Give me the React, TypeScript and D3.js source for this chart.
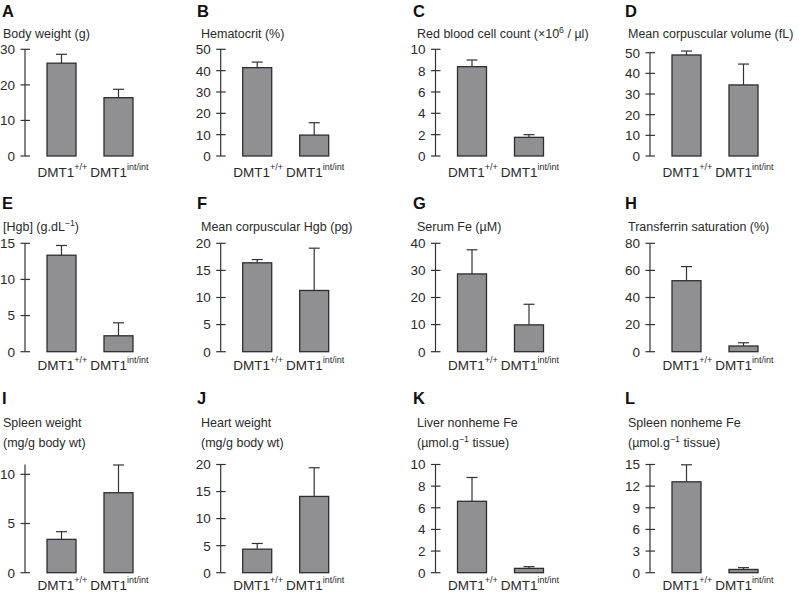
import React from 'react';
import * as d3 from 'd3';

// ---- data ----
const panelLetters = ['A', 'B', 'C', 'D', 'E', 'F', 'G', 'H', 'I', 'J', 'K', 'L'];
const panelTitles: string[][] = [
  ['Body weight (g)'],
  ['Hematocrit (%)'],
  ['Red blood cell count (×10^{6} / µl)'],
  ['Mean corpuscular volume (fL)'],
  ['[Hgb] (g.dL^{−1})'],
  ['Mean corpuscular Hgb (pg)'],
  ['Serum Fe (µM)'],
  ['Transferrin saturation (%)'],
  ['Spleen weight', '(mg/g body wt)'],
  ['Heart weight', '(mg/g body wt)'],
  ['Liver nonheme Fe', '(µmol.g^{−1} tissue)'],
  ['Spleen nonheme Fe', '(µmol.g^{−1} tissue)'],
];
const genotypeBase = 'DMT1';
const genotypes = ['+/+', 'int/int'];
const means: number[][] = [
  [26.1, 16.4],
  [41.4, 9.8],
  [8.37, 1.75],
  [48.9, 34.4],
  [13.35, 2.2],
  [16.4, 11.3],
  [28.7, 9.9],
  [52.4, 4.2],
  [3.39, 8.13],
  [4.35, 14.1],
  [6.6, 0.4],
  [12.6, 0.45],
];
const errors: number[][] = [
  [2.5, 2.35],
  [2.6, 5.8],
  [0.63, 0.25],
  [1.9, 10.1],
  [1.35, 1.8],
  [0.6, 7.8],
  [8.9, 7.6],
  [10.4, 2.4],
  [0.78, 2.82],
  [1.05, 5.3],
  [2.2, 0.16],
  [2.36, 0.25],
];
const yMax = [30, 50, 10, 50, 15, 20, 40, 80, 11, 20, 10, 15];
const tickStep = [10, 10, 2, 10, 5, 5, 10, 20, 5, 5, 2, 3];

// ---- layout ----
const W = 799;
const H = 595;
const colAxisX = [25, 220.7, 435.5, 650];
const colTitleX = [3, 201, 417, 628];
const colLetterX = [2, 197, 413, 625];
const rowBottom = [156, 351.7, 572.7];
const rowTop = [49.3, 243.3, 464.5];
const panelTopAdjust = [0, 0, 0, 3.4, 0, 0, 0, 0, 0, 0, 0, 0];
const rowLetterY = [17, 208.5, 404];
const rowTitleY = [37.5, 230.8, 427];
const rowLabelY = [176.5, 369.5, 589.5];
const titleLineGap = 20;

const FONT = "'Liberation Sans', Arial, Helvetica, sans-serif";
const TEXT = '#2a2a2a';
const AXIS = '#333';
const BAR_FILL = '#909092';
const BAR_STROKE = '#2e2e2e';

function RichText({ text, x, y, size }: { text: string; x: number; y: number; size: number }) {
  const parts: { t: string; sup: boolean }[] = [];
  const re = /\^\{([^}]*)\}/g;
  let last = 0;
  let m: RegExpExecArray | null;
  while ((m = re.exec(text)) !== null) {
    if (m.index > last) parts.push({ t: text.slice(last, m.index), sup: false });
    parts.push({ t: m[1], sup: true });
    last = m.index + m[0].length;
  }
  if (last < text.length) parts.push({ t: text.slice(last), sup: false });
  let shift = 0;
  return (
    <text x={x} y={y} fontSize={size} fill={TEXT} fontFamily={FONT}>
      {parts.map((p, k) => {
        let dy = 0;
        if (p.sup && shift === 0) {
          dy = -5;
          shift = -5;
        } else if (!p.sup && shift !== 0) {
          dy = 5;
          shift = 0;
        }
        return (
          <tspan key={k} dy={dy} fontSize={p.sup ? size * 0.7 : size}>
            {p.t}
          </tspan>
        );
      })}
    </text>
  );
}

function Panel({ i }: { i: number }) {
  const col = i % 4;
  const row = Math.floor(i / 4);
  const ax = colAxisX[col];
  const y = d3
    .scaleLinear()
    .domain([0, yMax[i]])
    .range([rowBottom[row], rowTop[row] + panelTopAdjust[i]]);
  const x = d3
    .scaleBand<string>()
    .domain(genotypes)
    .range([ax, ax + 130])
    .paddingInner(0.491)
    .paddingOuter(0.386);
  const ticks = d3.range(0, yMax[i] + 1e-9, tickStep[i]);
  const bw = x.bandwidth();

  return (
    <g>
      <text
        x={colLetterX[col]}
        y={rowLetterY[row]}
        fontSize={16.5}
        fontWeight="bold"
        fill="#111"
        fontFamily={FONT}
      >
        {panelLetters[i]}
      </text>
      {panelTitles[i].map((line, k) => (
        <RichText
          key={k}
          text={line}
          x={colTitleX[col]}
          y={rowTitleY[row] + k * titleLineGap}
          size={12.5}
        />
      ))}
      {/* axis */}
      <line x1={ax} x2={ax} y1={y(0)} y2={y(yMax[i])} stroke={AXIS} strokeWidth={1.2} />
      {ticks.map((t) => (
        <g key={t}>
          <line x1={ax - 4.5} x2={ax + 5} y1={y(t)} y2={y(t)} stroke={AXIS} strokeWidth={1.2} />
          <text
            x={ax - 10}
            y={y(t)}
            dy="0.36em"
            textAnchor="end"
            fontSize={13.5}
            fill={TEXT}
            fontFamily={FONT}
          >
            {t}
          </text>
        </g>
      ))}
      {/* error bars */}
      {genotypes.map((g, k) => {
        const cx = (x(g) as number) + bw / 2;
        const top = y(means[i][k] + errors[i][k]);
        return (
          <g key={'e' + g}>
            <line x1={cx} x2={cx} y1={y(means[i][k])} y2={top} stroke={AXIS} strokeWidth={1.2} />
            <line x1={cx - 5.5} x2={cx + 5.5} y1={top} y2={top} stroke={AXIS} strokeWidth={1.2} />
          </g>
        );
      })}
      {/* bars */}
      {genotypes.map((g, k) => (
        <rect
          key={'b' + g}
          x={x(g) as number}
          y={y(means[i][k])}
          width={bw}
          height={y(0) - y(means[i][k])}
          fill={BAR_FILL}
          stroke={BAR_STROKE}
          strokeWidth={1.3}
        />
      ))}
      {/* category labels */}
      {genotypes.map((g) => (
        <text
          key={'l' + g}
          x={(x(g) as number) + bw / 2 + 1}
          y={rowLabelY[row]}
          textAnchor="middle"
          fontSize={13.5}
          fill={TEXT}
          fontFamily={FONT}
        >
          <tspan>{genotypeBase}</tspan>
          <tspan dy={-6.5} fontSize={9}>
            {g}
          </tspan>
        </text>
      ))}
    </g>
  );
}

export default function App() {
  return (
    <svg
      width={W}
      height={H}
      viewBox={`0 0 ${W} ${H}`}
      style={{ position: 'absolute', left: 0, top: 0, background: '#fff' }}
    >
      <rect width={W} height={H} fill="#fff" />
      {panelLetters.map((_, i) => (
        <Panel key={i} i={i} />
      ))}
    </svg>
  );
}
